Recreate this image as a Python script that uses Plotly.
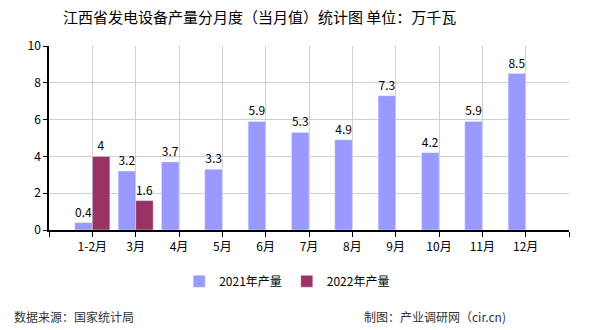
import plotly.graph_objects as go

categories = ["1-2月", "3月", "4月", "5月", "6月", "7月", "8月", "9月", "10月", "11月", "12月"]
values_2021 = [0.4, 3.2, 3.7, 3.3, 5.9, 5.3, 4.9, 7.3, 4.2, 5.9, 8.5]
values_2022 = [4, 1.6]
y_ticks = [0, 2, 4, 6, 8, 10]

FONT = "Noto Sans CJK SC, SimSun, sans-serif"
idx = list(range(len(categories)))

fig = go.Figure()
fig.add_trace(go.Bar(
    x=idx, y=values_2021, name="2021年产量", marker_color="#9999FF",
    texttemplate="%{y}", textposition="outside", cliponaxis=False,
    textfont=dict(size=12, color="#000000", family=FONT),
))
fig.add_trace(go.Bar(
    x=idx[:len(values_2022)], y=values_2022, name="2022年产量", marker_color="#993366",
    texttemplate="%{y}", textposition="outside", cliponaxis=False,
    textfont=dict(size=12, color="#000000", family=FONT),
))

fig.update_layout(
    width=590, height=330,
    margin=dict(l=49, r=21, t=46, b=100),
    paper_bgcolor="white", plot_bgcolor="white",
    barmode="group", bargap=0.19, bargroupgap=0,
    font=dict(family=FONT, size=12, color="#000000"),
    title=dict(text="江西省发电设备产量分月度（当月值）统计图 单位：万千瓦",
               x=0.44, xanchor="center", y=0.945, yanchor="middle",
               font=dict(size=15, color="#000000", family=FONT)),
    legend=dict(orientation="h", x=0.458, xanchor="center", y=-0.2, yanchor="top",
                font=dict(size=12, family=FONT), itemwidth=30,
                traceorder="normal"),
    showlegend=True,
)
fig.update_xaxes(
    range=[-1, len(categories)],
    tickmode="array",
    tickvals=[-1] + idx + [len(categories)],
    ticktext=[""] + categories + [""],
    showgrid=True, gridcolor="#D0D0D0", gridwidth=1,
    showline=True, linecolor="#000000", linewidth=1.5,
    ticks="outside", ticklen=5, tickcolor="#000000",
    tickfont=dict(size=12, family=FONT), zeroline=False,
)
fig.update_yaxes(
    range=[0, 10], tickvals=y_ticks,
    showgrid=True, gridcolor="#D0D0D0", gridwidth=1,
    showline=True, linecolor="#000000", linewidth=1.5,
    ticks="outside", ticklen=4, tickcolor="#000000",
    tickfont=dict(size=12, family=FONT), zeroline=False,
)

fig.add_annotation(text="数据来源：国家统计局", xref="paper", yref="paper",
                   x=(12-49)/520, y=-86/184, xanchor="left", yanchor="middle",
                   showarrow=False, font=dict(size=12, family=FONT, color="#333333"))
fig.add_annotation(text="制图：产业调研网（cir.cn)", xref="paper", yref="paper",
                   x=(508-49)/520, y=-86/184, xanchor="right", yanchor="middle",
                   showarrow=False, font=dict(size=12, family=FONT, color="#333333"))

fig.write_html("out.html")
